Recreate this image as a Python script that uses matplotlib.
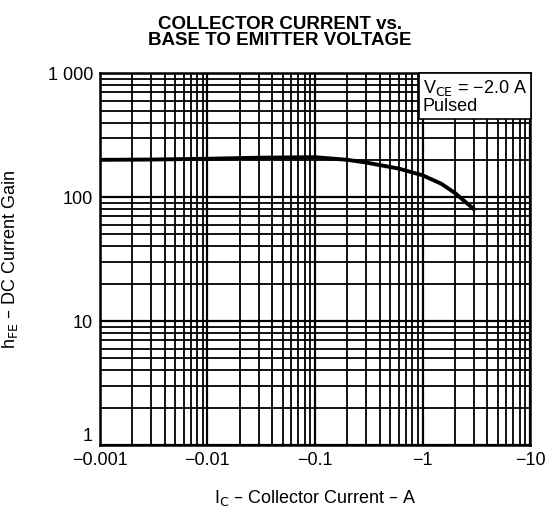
#!/usr/bin/env python3
"""
DC current gain vs collector current (datasheet-style log-log chart).
"""

import matplotlib
matplotlib.use("Agg")
import matplotlib.pyplot as plt
from matplotlib.ticker import FixedLocator, LogLocator, NullFormatter

plt.rcParams["font.family"] = ["Liberation Sans Narrow", "Liberation Sans", "DejaVu Sans"]
plt.rcParams["font.size"] = 13

# data (magnitudes; labels carry the minus sign)
ic_amps = [0.001, 0.003, 0.01, 0.03, 0.1, 0.2, 0.3, 0.6, 1.0, 1.5, 2.0, 3.0]
hfe_gain = [200, 201, 204, 208, 210, 200, 190, 170, 150, 128, 108, 80]

x_ticks = [0.001, 0.01, 0.1, 1, 10]
x_labels = ["\u22120.001", "\u22120.01", "\u22120.1", "\u22121", "\u221210"]
y_ticks = [1, 10, 100, 1000]
y_labels = ["1", "10", "100", "1 000"]


def main():
    fig = plt.figure(figsize=(5.58, 5.12), dpi=100)
    ax = fig.add_axes([0.179, 0.131, 0.771, 0.726])

    ax.set_xscale("log")
    ax.set_yscale("log")
    ax.set_xlim(0.001, 10)
    ax.set_ylim(1, 1000)

    ax.xaxis.set_major_locator(FixedLocator(x_ticks))
    ax.yaxis.set_major_locator(FixedLocator(y_ticks))
    ax.xaxis.set_minor_locator(LogLocator(base=10, subs=range(2, 10)))
    ax.yaxis.set_minor_locator(LogLocator(base=10, subs=range(2, 10)))
    ax.xaxis.set_minor_formatter(NullFormatter())
    ax.yaxis.set_minor_formatter(NullFormatter())
    ax.set_xticklabels(x_labels)
    ax.set_yticklabels(y_labels)
    ax.tick_params(which="both", length=0, labelsize=13)
    ax.tick_params(axis="x", pad=5)
    ax.tick_params(axis="y", pad=5)
    # bottom y label sits just above the axis corner, as in the original
    ax.get_yticklabels()[0].set_verticalalignment("bottom")

    ax.grid(True, which="major", color="black", linewidth=1.6)
    ax.grid(True, which="minor", color="black", linewidth=1.3)
    for s in ax.spines.values():
        s.set_linewidth(1.8)

    ax.plot(ic_amps, hfe_gain, color="black", linewidth=2.8, zorder=3)

    ax.text(0.993, 0.988, "V$_{\\mathrm{CE}}$ = \u22122.0 A\nPulsed",
            transform=ax.transAxes, ha="right", va="top", fontsize=13,
            multialignment="left", linespacing=1.0, zorder=5,
            bbox=dict(facecolor="white", edgecolor="black", linewidth=1.2,
                      boxstyle="square,pad=0.22"))

    ax.set_xlabel("I$_{\\mathrm{C}}$ \u2013 Collector Current \u2013 A", fontsize=13, labelpad=14)
    ax.set_ylabel("h$_{\\mathrm{FE}}$ \u2013 DC Current Gain", fontsize=13, labelpad=20)

    fig.text(0.502, 0.937, "COLLECTOR CURRENT vs.\nBASE TO EMITTER VOLTAGE",
             ha="center", va="center", fontsize=13.5, fontweight="bold", linespacing=0.95)

    fig.savefig("out.png", dpi=100)


if __name__ == "__main__":
    main()
